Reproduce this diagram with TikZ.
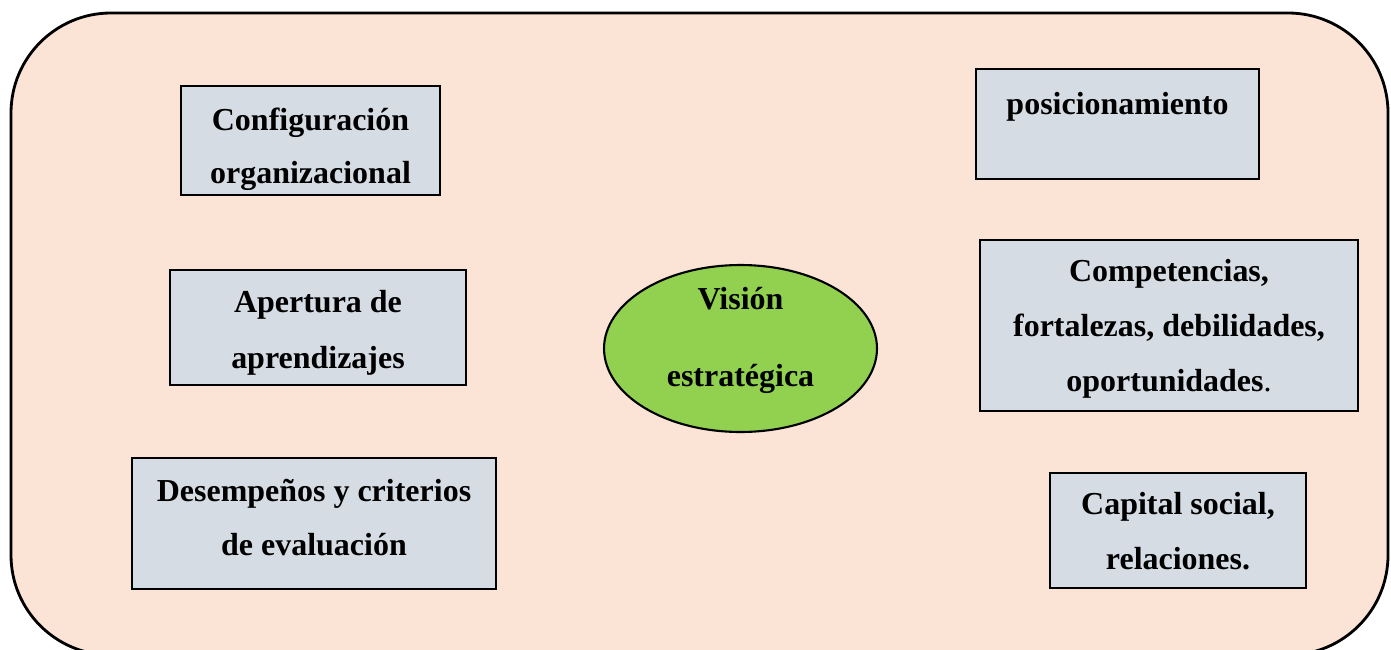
\documentclass[tikz,border=0pt]{standalone}
\usepackage{fontspec}
\setmainfont{Liberation Serif}
\usetikzlibrary{fit,shapes.geometric}
\definecolor{bgpeach}{HTML}{FBE3D6}
\definecolor{boxgray}{HTML}{D6DCE4}
\definecolor{vgreen}{HTML}{92D050}
\begin{document}
\begin{tikzpicture}[x=0.02cm,y=-0.02cm,
  panel/.style={draw=black, line width=1.6pt, fill=bgpeach, rounded corners=2cm},
  topic/.style={draw=black, line width=1.2pt, fill=boxgray, inner sep=0pt},
  core/.style={ellipse, draw=black, line width=1.2pt, fill=vgreen, inner sep=0pt,
               minimum width=5.46cm, minimum height=3.34cm},
  lbl/.style={font=\bfseries\fontsize{18.2}{18}\selectfont, inner sep=0pt, anchor=base}]
\useasboundingbox (0,0) rectangle (1391,649);

% background panel, its lower edge runs past the page
\begin{scope}
  \clip (0,0) rectangle (1391,649);
  \draw[panel] (11,13) rectangle (1388,655);
\end{scope}

% topic boxes
\node[topic, fit={(181,86) (440,195)}] (conf) {};
\node[topic, fit={(976,69) (1259,179)}] (posi) {};
\node[topic, fit={(170,270) (466,385)}] (aper) {};
\node[topic, fit={(980,240) (1358,411)}] (comp) {};
\node[topic, fit={(132,458) (496,589)}] (dese) {};
\node[topic, fit={(1050,473) (1306,588)}] (capi) {};

% central ellipse
\node[core] (vision) at (740.5,348.5) {};

% labels
\node[lbl] (confA) at (310.5,130) {Configuración};
\node[lbl] (confB) at (310.5,183) {organizacional};
\node[lbl] (posiA) at (1117.5,114) {posicionamiento};
\node[lbl] (aperA) at (318,312) {Apertura de};
\node[lbl] (aperB) at (318,368) {aprendizajes};
\node[lbl] (compA) at (1169,281) {Competencias,};
\node[lbl] (compB) at (1169,336) {fortalezas, debilidades,};
\node[lbl] (compC) at (1169,391) {oportunidades\mdseries.};
\node[lbl] (deseA) at (314,501) {Desempeños y criterios};
\node[lbl] (deseB) at (314,555) {de evaluación};
\node[lbl] (capiA) at (1178,514) {Capital social,};
\node[lbl] (capiB) at (1178,569) {relaciones.};
\node[lbl] (visA) at (740.5,309) {Visión};
\node[lbl] (visB) at (740.5,386) {estratégica};
\end{tikzpicture}
\end{document}
